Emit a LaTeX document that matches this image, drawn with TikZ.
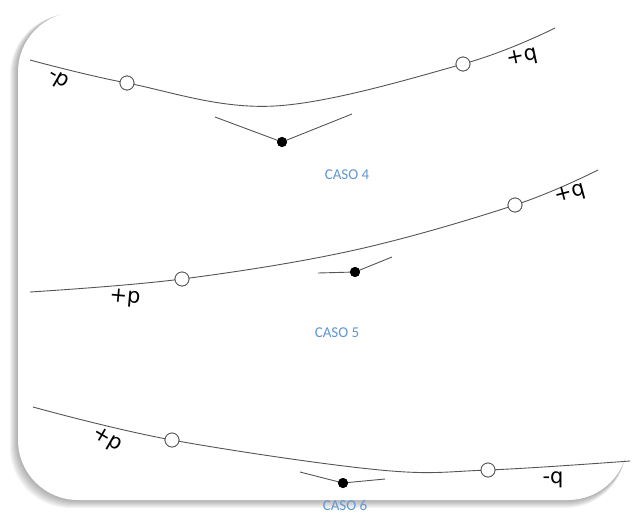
\documentclass[tikz,border=0pt]{standalone}
\usepackage{fontspec}
\setmainfont{Carlito}
\newfontfamily\etiqfont{DejaVu Sans}
\definecolor{casoazul}{RGB}{95,150,210}
\definecolor{linea}{RGB}{85,85,85}
\begin{document}
\begin{tikzpicture}[x=1pt, y=-1pt,
    curva/.style={linea, line width=0.9pt},
    abierto/.style={circle, draw=linea, fill=white, line width=0.8pt, minimum size=14pt, inner sep=0pt},
    lleno/.style={circle, fill=black, minimum size=10pt, inner sep=0pt},
    etiq/.style={font=\etiqfont\fontsize{21}{21}\selectfont, inner sep=0pt},
    caso/.style={font=\fontsize{15}{15}\selectfont, text=casoazul}]
    \useasboundingbox (0,0) rectangle (637,523);

    % Tarjeta con sombra
    \foreach \i in {1,...,8}
        \fill[black, opacity=0.045, rounded corners=60pt] ({18-\i},{12+0.3*\i}) rectangle ({628-0.3*\i},{500+\i});
    \fill[white, rounded corners=60pt] (18,12) rectangle (628,500);

    % Caso 4
    \coordinate (a4) at (30,60);
    \coordinate (m4) at (275,106);
    \coordinate (b4) at (555,28);
    \node[abierto] (p4) at (127,83) {};
    \node[abierto] (q4) at (463,64) {};
    \draw[curva] plot[smooth, tension=0.6] coordinates {(a4) (p4.center) (m4) (q4.center) (b4)};
    \node[abierto] at (p4) {};
    \node[abierto] at (q4) {};
    \node[etiq, rotate=-30] (lp4) at (58,80) {-p};
    \node[etiq, rotate=12] (lq4) at (522,58) {+q};
    \node[lleno] (s4) at (282,142) {};
    \coordinate (i4) at (215,117);
    \coordinate (d4) at (352,114);
    \draw[curva] (i4) -- (s4.center) -- (d4);
    \node[lleno] at (s4) {};
    \node[caso] (c4) at (347,175) {CASO 4};

    % Caso 5
    \coordinate (a5) at (30,292);
    \coordinate (m5) at (355,250);
    \coordinate (b5) at (598,170);
    \node[abierto] (p5) at (182,279) {};
    \node[abierto] (q5) at (515,205) {};
    \draw[curva] plot[smooth, tension=0.6] coordinates {(a5) (p5.center) (m5) (q5.center) (b5)};
    \node[abierto] at (p5) {};
    \node[abierto] at (q5) {};
    \node[etiq, rotate=-5] (lp5) at (125,298) {+p};
    \node[etiq, rotate=15] (lq5) at (570,194) {+q};
    \node[lleno] (s5) at (355,272) {};
    \coordinate (i5) at (318,273);
    \coordinate (d5) at (392,257);
    \draw[curva] (i5) -- (s5.center) -- (d5);
    \node[lleno] at (s5) {};
    \node[caso] (c5) at (337,333) {CASO 5};

    % Caso 6
    \coordinate (a6) at (33,407);
    \coordinate (m6) at (380,470);
    \coordinate (b6) at (630,461);
    \node[abierto] (p6) at (172,440) {};
    \node[abierto] (q6) at (488,470) {};
    \draw[curva] plot[smooth, tension=0.6] coordinates {(a6) (p6.center) (m6) (q6.center) (b6)};
    \node[abierto] at (p6) {};
    \node[abierto] at (q6) {};
    \node[etiq, rotate=-30] (lp6) at (107,440) {+p};
    \node[etiq] (lq6) at (553,480) {-q};
    \node[lleno] (s6) at (343,483) {};
    \coordinate (i6) at (300,472);
    \coordinate (d6) at (385,479);
    \draw[curva] (i6) -- (s6.center) -- (d6);
    \node[lleno] at (s6) {};
    \node[caso] (c6) at (345,505) {CASO 6};
\end{tikzpicture}
\end{document}
